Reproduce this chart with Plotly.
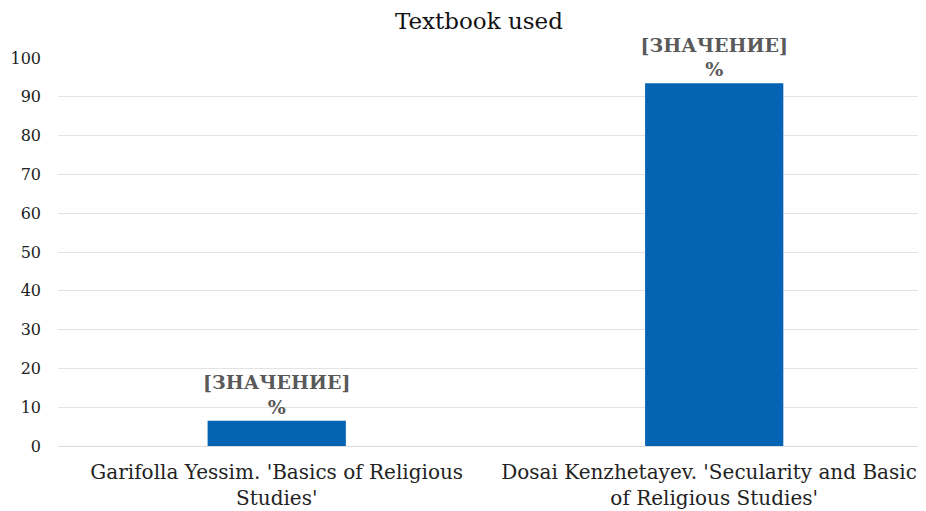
import plotly.graph_objects as go

categories = ["Garifolla Yessim. 'Basics of Religious<br>Studies'",
              "Dosai Kenzhetayev. 'Secularity and Basics<br>of Religious Studies'"]
values = [6.5, 93.5]
labels = ["[ЗНАЧЕНИЕ]<br>%", "[ЗНАЧЕНИЕ]<br>%"]
title_text = "Textbook used"

FONT = "DejaVu Serif, serif"

fig = go.Figure(go.Bar(
    x=[0, 1], y=values,
    marker=dict(color="#0563B4", line=dict(width=0)),
    width=0.316,
    text=labels, textposition="outside", constraintext="none", cliponaxis=False,
    textfont=dict(family=FONT, size=19, color="#595959", weight="bold"),
))

fig.update_layout(
    width=918, height=503,
    margin=dict(l=50, r=0, t=50, b=65),
    paper_bgcolor="white", plot_bgcolor="white",
    showlegend=False,
    font=dict(family=FONT, color="#222222"),
    title=dict(text=title_text, x=0.513, xanchor="center", y=0.975, yanchor="middle",
               font=dict(family=FONT, size=23, color="#111111")),
)
fig.update_xaxes(
    range=[-0.5, 1.475], tickmode="array", tickvals=[0, 1], ticktext=categories,
    showgrid=False, showline=True, linecolor="#dcdcdc", linewidth=1,
    tickfont=dict(family=FONT, size=20, color="#222222"), ticklabelstandoff=8,
    ticklabeloverflow="allow",
)
fig.update_yaxes(
    range=[0, 100], dtick=10, showgrid=True, gridcolor="#e3e3e3", gridwidth=1,
    zeroline=False, tickfont=dict(family=FONT, size=16, color="#222222"),
    ticklabelstandoff=16,
)
fig.write_html("out.html")
